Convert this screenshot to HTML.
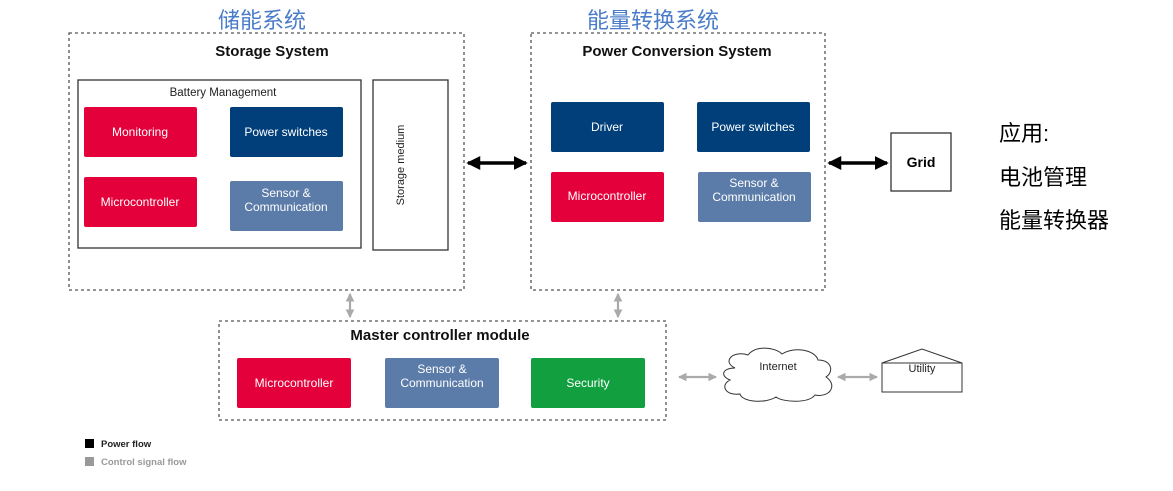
<!DOCTYPE html>
<html><head><meta charset="utf-8"><style>
body{margin:0;background:#fff;}
svg text{font-family:"Liberation Sans","Noto Sans CJK SC",sans-serif;}
</style></head><body>
<svg width="1173" height="486" viewBox="0 0 1173 486" xmlns="http://www.w3.org/2000/svg">
<defs>
<marker id="ab" markerWidth="4" markerHeight="4" refX="3.5" refY="2" orient="auto-start-reverse" markerUnits="strokeWidth"><path d="M0,0 L4,2 L0,4 z" fill="#000"/></marker>
<marker id="ag" markerWidth="4" markerHeight="4" refX="3.5" refY="2" orient="auto-start-reverse" markerUnits="strokeWidth"><path d="M0,0 L4,2 L0,4 z" fill="#aaa"/></marker>
</defs>
<g font-size="22" fill="#4a7cc9" text-anchor="middle">
<text x="262" y="28">储能系统</text>
<text x="653" y="28">能量转换系统</text>
</g>
<g font-size="22" fill="#000">
<text x="999" y="141">应用:</text>
<text x="999" y="185">电池管理</text>
<text x="999" y="228">能量转换器</text>
</g>
<g fill="none" stroke="#555" stroke-width="1.3" stroke-dasharray="3,3">
<rect x="69" y="33" width="395" height="257"/>
<rect x="531" y="33" width="294" height="257"/>
<rect x="219" y="321" width="447" height="99"/>
</g>
<g font-weight="bold" font-size="15" text-anchor="middle" fill="#111">
<text x="272" y="56">Storage System</text>
<text x="677" y="56">Power Conversion System</text>
<text x="440" y="340">Master controller module</text>
</g>
<rect x="78" y="80" width="283" height="168" fill="none" stroke="#333" stroke-width="1.3"/>
<text x="223" y="96" font-size="11.5" text-anchor="middle" fill="#222">Battery Management</text>
<rect x="373" y="80" width="75" height="170" fill="none" stroke="#333" stroke-width="1.3"/>
<text transform="translate(404,165) rotate(-90)" font-size="11" text-anchor="middle" fill="#222">Storage medium</text>
<g font-size="12" fill="#fff" text-anchor="middle">
<rect x="84" y="107" width="113" height="50" rx="2" fill="#e4003a"/><text x="140" y="136">Monitoring</text>
<rect x="230" y="107" width="113" height="50" rx="2" fill="#003f7a"/><text x="286" y="136">Power switches</text>
<rect x="84" y="177" width="113" height="50" rx="2" fill="#e4003a"/><text x="140" y="206">Microcontroller</text>
<rect x="230" y="181" width="113" height="50" rx="2" fill="#5b7ba8"/><text x="286" y="197">Sensor &amp;</text><text x="286" y="211">Communication</text>
<rect x="551" y="102" width="113" height="50" rx="2" fill="#003f7a"/><text x="607" y="131">Driver</text>
<rect x="697" y="102" width="113" height="50" rx="2" fill="#003f7a"/><text x="753" y="131">Power switches</text>
<rect x="551" y="172" width="113" height="50" rx="2" fill="#e4003a"/><text x="607" y="200">Microcontroller</text>
<rect x="698" y="172" width="113" height="50" rx="2" fill="#5b7ba8"/><text x="754" y="187">Sensor &amp;</text><text x="754" y="201">Communication</text>
<rect x="237" y="358" width="114" height="50" rx="2" fill="#e4003a"/><text x="294" y="387">Microcontroller</text>
<rect x="385" y="358" width="114" height="50" rx="2" fill="#5b7ba8"/><text x="442" y="373">Sensor &amp;</text><text x="442" y="387">Communication</text>
<rect x="531" y="358" width="114" height="50" rx="2" fill="#119f3f"/><text x="588" y="387">Security</text>
</g>
<g stroke="#000" stroke-width="3.5">
<line x1="468" y1="163" x2="526" y2="163" marker-start="url(#ab)" marker-end="url(#ab)"/>
<line x1="829" y1="163" x2="887" y2="163" marker-start="url(#ab)" marker-end="url(#ab)"/>
</g>
<rect x="891" y="133" width="60" height="58" fill="#fff" stroke="#333" stroke-width="1.3"/>
<text x="921" y="167" font-size="14" font-weight="bold" text-anchor="middle">Grid</text>
<g stroke="#aaa" stroke-width="2.2">
<line x1="350" y1="294" x2="350" y2="317" marker-start="url(#ag)" marker-end="url(#ag)"/>
<line x1="618" y1="294" x2="618" y2="317" marker-start="url(#ag)" marker-end="url(#ag)"/>
<line x1="679" y1="377" x2="716" y2="377" marker-start="url(#ag)" marker-end="url(#ag)"/>
<line x1="838" y1="377" x2="877" y2="377" marker-start="url(#ag)" marker-end="url(#ag)"/>
</g>
<path d="M735,368 C722,362 732,350 748,355 C756,345 775,347 782,354 C795,346 815,350 818,360 C832,360 834,372 826,377 C838,385 830,398 815,395 C808,404 782,402 776,397 C765,404 742,402 740,394 C725,396 720,385 730,380 C720,376 722,368 735,368 Z" fill="#fff" stroke="#333" stroke-width="1"/>
<text x="778" y="370" font-size="11" text-anchor="middle" fill="#222">Internet</text>
<rect x="882" y="363" width="80" height="29" fill="#fff" stroke="#333" stroke-width="1"/>
<path d="M882,363 L922,349 L962,363" fill="none" stroke="#333" stroke-width="1"/>
<text x="922" y="372" font-size="11" text-anchor="middle" fill="#222">Utility</text>
<rect x="85" y="439" width="9" height="9" fill="#000"/>
<text x="101" y="447" font-size="9.5" font-weight="bold" fill="#222">Power flow</text>
<rect x="85" y="457" width="9" height="9" fill="#999"/>
<text x="101" y="465" font-size="9.5" font-weight="bold" fill="#999">Control signal flow</text>
</svg>
</body></html>
